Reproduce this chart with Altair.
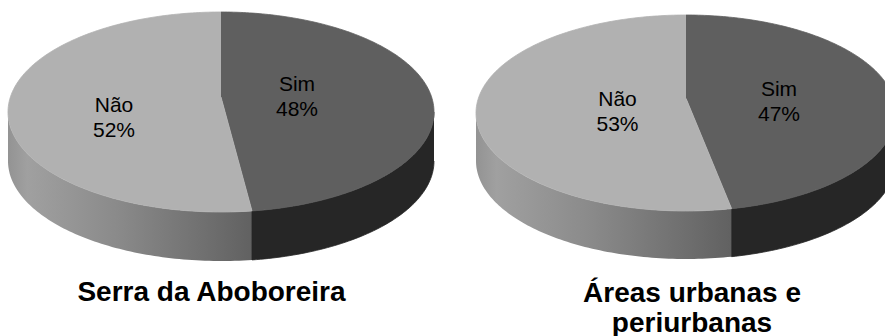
import math
import altair as alt
import pandas as pd

# Survey answers per area (percent)
areas = ["Serra da Aboboreira", "Áreas urbanas e periurbanas"]
title_lines = [["Serra da Aboboreira"], ["Áreas urbanas e", "periurbanas"]]
answers = ["Sim", "Não"]
sim_pct = [48, 47]
nao_pct = [52, 53]

# Layout of each 3-D pie (pixels): centre x, top edge, half width, face height, wall depth
PIES = [
    dict(cx=221, top=12, half_w=213, face_h=200, depth=49,
         labels={"Sim": (297, 90.7), "Não": (114, 111.7)},
         title=(211.5, 300.7)),
    dict(cx=686, top=15, half_w=210, face_h=196, depth=48,
         labels={"Sim": (779, 96), "Não": (617.5, 106)},
         title=(692, 302)),
]
PERSP = 0.15  # foreshortening of the far side of the disc

TOP_COLORS = {"Não": "#b1b1b1", "Sim": "#5f5f5f"}
SIM_WALL = "#262626"


def projector(cfg):
    p = PERSP
    sx = cfg["half_w"] * math.sqrt(1 - p * p)
    sy = cfg["face_h"] / (1 / (1 + p) + 1 / (1 - p))
    cy = cfg["top"] + sy / (1 + p)

    def proj(theta_deg, r=1.0):
        t = math.radians(theta_deg)
        a, b = r * math.sin(t), r * math.cos(t)
        w = 1 + p * b
        return cfg["cx"] + sx * a / w, cy - sy * b / w

    return proj


def arc(t1, t2, step=1.0):
    n = max(2, int(math.ceil(abs(t2 - t1) / step)) + 1)
    return [t1 + (t2 - t1) * i / (n - 1) for i in range(n)]


rows = []
texts = []
titles = []
front_r = math.degrees(math.acos(-PERSP))          # rightmost point of the rim
front_l = 360 - front_r                            # leftmost point of the rim

for k, cfg in enumerate(PIES):
    proj = projector(cfg)
    shares = {"Sim": sim_pct[k], "Não": nao_pct[k]}
    start = 0.0
    for ans in answers:
        end = start + 360.0 * shares[ans] / 100.0
        key = f"{k}-{ans}"
        # top face: centre + rim arc
        pts = [proj(0, 0.0)] + [proj(t) for t in arc(start, end)]
        for i, (x, y) in enumerate(pts):
            rows.append(dict(poly=key, part="top", answer=ans, i=i, x=x, y=y))
        # visible wall: part of the rim facing the viewer
        lo, hi = max(start, front_r), min(end, front_l)
        if hi > lo:
            rim = [proj(t) for t in arc(lo, hi)]
            wall = rim + [(x, y + cfg["depth"]) for x, y in reversed(rim)]
            for i, (x, y) in enumerate(wall):
                rows.append(dict(poly=key, part="wall", answer=ans, i=i, x=x, y=y))
        lx, ly = cfg["labels"][ans]
        texts.append(dict(x=lx, y=ly, label=f"{ans}\n{shares[ans]}%"))
        start = end
    tx, ty = cfg["title"]
    titles.append(dict(x=tx, y=ty, label="\n".join(title_lines[k])))

shapes = pd.DataFrame(rows)
labels = pd.DataFrame(texts)
heads = pd.DataFrame(titles)

xs = alt.Scale(domain=[0, 885], nice=False, zero=False)
ys = alt.Scale(domain=[0, 336], nice=False, zero=False, reverse=True)
X = alt.X("x:Q", scale=xs, axis=None)
Y = alt.Y("y:Q", scale=ys, axis=None)

base = alt.Chart(shapes)

nao_wall = base.transform_filter(
    (alt.datum.part == "wall") & (alt.datum.answer == "Não")
).mark_line(
    fill=alt.Gradient(
        gradient="linear", x1=0, y1=0, x2=1, y2=0,
        stops=[
            alt.GradientStop(color="#939393", offset=0),
            alt.GradientStop(color="#a0a0a0", offset=0.08),
            alt.GradientStop(color="#8a8a8a", offset=0.45),
            alt.GradientStop(color="#616161", offset=1),
        ],
    ),
    stroke="#7a7a7a", strokeWidth=0, interpolate="linear",
).encode(x=X, y=Y, detail="poly:N", order="i:Q")

sim_wall = base.transform_filter(
    (alt.datum.part == "wall") & (alt.datum.answer == "Sim")
).mark_line(fill=SIM_WALL, stroke=SIM_WALL, strokeWidth=0.8).encode(
    x=X, y=Y, detail="poly:N", order="i:Q"
)

color_scale = alt.Scale(domain=list(TOP_COLORS), range=list(TOP_COLORS.values()))
tops = base.transform_filter(alt.datum.part == "top").mark_line(strokeWidth=0.8).encode(
    x=X, y=Y, detail="poly:N", order="i:Q",
    fill=alt.Fill("answer:N", scale=color_scale, legend=None),
    stroke=alt.Stroke("answer:N", scale=color_scale, legend=None),
)

slice_text = alt.Chart(labels).mark_text(
    font="Liberation Sans", fontSize=21, color="#000000",
    align="center", baseline="alphabetic", lineBreak="\n", lineHeight=25,
).encode(x=X, y=Y, text="label:N")

title_text = alt.Chart(heads).mark_text(
    font="Liberation Sans", fontSize=28, fontWeight="bold", color="#000000",
    align="center", baseline="alphabetic", lineBreak="\n", lineHeight=30,
).encode(x=X, y=Y, text="label:N")

chart = alt.layer(nao_wall, sim_wall, tops, slice_text, title_text).properties(
    width=885, height=336, padding=0, autosize="none", background="white",
).configure_view(stroke=None)

chart.save("out.html", embed_options={"renderer": "svg", "actions": False})
